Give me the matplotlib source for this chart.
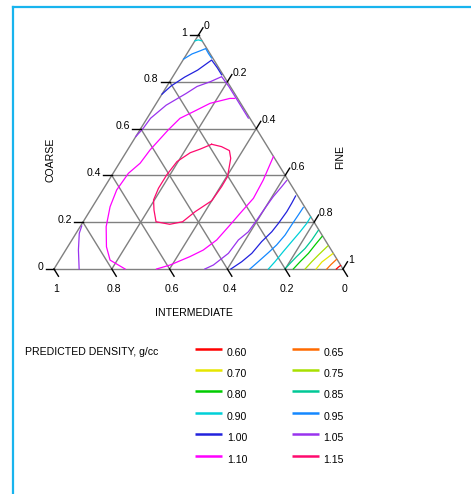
import matplotlib
matplotlib.use('Agg')
import matplotlib.pyplot as plt
from matplotlib.lines import Line2D

plt.rcParams['font.family'] = ['Liberation Sans', 'DejaVu Sans']

# density levels (g/cc) and their line colours
levels = [0.60, 0.65, 0.70, 0.75, 0.80, 0.85, 0.90, 0.95, 1.00, 1.05, 1.10, 1.15]
level_colors = ['#ff0000', '#ff6a00', '#e6e600', '#a8e000', '#00cc00', '#00c896',
                '#00d0d8', '#1488ff', '#2222dd', '#9933ee', '#ff00ff', '#ff0a6e']

# traced isolines, points are (coarse, fine); intermediate = 1 - coarse - fine
c060 = [(0.0, 0.977), (0.008, 0.980), (0.015, 0.984)]
c065 = [(0.0, 0.944), (0.019, 0.949), (0.041, 0.957)]
c070 = [(0.0, 0.907), (0.030, 0.912), (0.066, 0.932)]
c075 = [(0.0, 0.869), (0.030, 0.876), (0.060, 0.885), (0.098, 0.898)]
c080 = [(0.0, 0.828), (0.031, 0.836), (0.067, 0.847), (0.103, 0.852), (0.139, 0.858)]
c085 = [(0.0, 0.799), (0.024, 0.805), (0.053, 0.813), (0.088, 0.825), (0.124, 0.830),
        (0.165, 0.832)]
c090 = [(0.0, 0.742), (0.031, 0.749), (0.074, 0.756), (0.117, 0.764), (0.159, 0.772),
        (0.195, 0.777), (0.222, 0.777)]
c090_apex = [(0.975, 0.0), (0.979, 0.010), (0.975, 0.024)]
c095 = [(0.0, 0.678), (0.031, 0.691), (0.070, 0.707), (0.103, 0.719), (0.145, 0.727),
        (0.188, 0.728), (0.231, 0.730), (0.263, 0.731)]
c095_top = [(0.897, 0.0), (0.919, 0.018), (0.932, 0.039), (0.942, 0.054), (0.920, 0.075),
            (0.902, 0.094)]
c100 = [(0.0, 0.612), (0.031, 0.634), (0.067, 0.651), (0.117, 0.660), (0.159, 0.674),
        (0.195, 0.679), (0.245, 0.683), (0.281, 0.682), (0.312, 0.680)]
c100_top = [(0.747, 0.0), (0.782, 0.014), (0.820, 0.042), (0.850, 0.072), (0.893, 0.099),
            (0.860, 0.135), (0.830, 0.165)]
c105 = [(0.0, 0.522), (0.017, 0.543), (0.067, 0.570), (0.124, 0.576), (0.159, 0.593),
        (0.209, 0.597), (0.259, 0.600), (0.309, 0.604), (0.352, 0.612), (0.378, 0.616)]
c105_top = [(0.566, 0.0), (0.600, 0.008), (0.644, 0.012), (0.700, 0.038), (0.750, 0.082),
            (0.780, 0.105), (0.800, 0.140), (0.822, 0.169), (0.780, 0.215), (0.720, 0.275),
            (0.645, 0.350)]
c105_left = [(0.184, 0.004), (0.153, 0.011), (0.081, 0.044), (0.0, 0.087)]
c110_left = [(0.0, 0.246), (0.038, 0.175), (0.095, 0.134), (0.181, 0.090), (0.266, 0.061),
             (0.338, 0.048), (0.409, 0.053), (0.452, 0.072), (0.509, 0.078), (0.594, 0.098),
             (0.644, 0.114), (0.672, 0.146), (0.708, 0.186), (0.729, 0.244), (0.729, 0.261)]
c110_right = [(0.0, 0.355), (0.017, 0.393), (0.053, 0.444), (0.081, 0.476), (0.124, 0.501),
              (0.188, 0.515), (0.238, 0.525), (0.302, 0.539), (0.380, 0.534), (0.480, 0.519)]
c115 = [(0.533, 0.279), (0.523, 0.318), (0.506, 0.354), (0.473, 0.375), (0.437, 0.388),
        (0.395, 0.403), (0.352, 0.404), (0.292, 0.400), (0.245, 0.366), (0.202, 0.344),
        (0.191, 0.305), (0.202, 0.252), (0.252, 0.220), (0.295, 0.197), (0.345, 0.189),
        (0.402, 0.189), (0.459, 0.196), (0.497, 0.223), (0.512, 0.249), (0.533, 0.279)]

isolines = [(0.60, c060), (0.65, c065), (0.70, c070), (0.75, c075), (0.80, c080),
            (0.85, c085), (0.90, c090), (0.90, c090_apex), (0.95, c095), (0.95, c095_top),
            (1.00, c100), (1.00, c100_top), (1.05, c105), (1.05, c105_top),
            (1.05, c105_left), (1.10, c110_left), (1.10, c110_right), (1.15, c115)]

tick_vals = [0, 0.2, 0.4, 0.6, 0.8, 1]

# triangle placement in figure pixels
X0, Y0, W, H = 54.0, 269.0, 289.0, 234.0
TICK = 8.5
GRID = '#808080'
FS = 7.6


def to_xy(coarse, fine):
    return X0 + W * (fine + coarse / 2.0), Y0 - H * coarse


fig = plt.figure(figsize=(4.71, 4.94), dpi=100)
ax = fig.add_axes([0, 0, 1, 1])
ax.set_xlim(0, 471)
ax.set_ylim(494, 0)
ax.axis('off')

# frame lines
fig.add_artist(Line2D([12.5 / 471, 1], [1 - 7.5 / 494, 1 - 7.5 / 494], color='#18b4ee', lw=1.6))
fig.add_artist(Line2D([12.5 / 471, 12.5 / 471], [1 - 7.5 / 494, 0], color='#18b4ee', lw=1.6))

# grid and outline
for v in tick_vals:
    # constant coarse
    xa, ya = to_xy(v, 0)
    xb, yb = to_xy(v, 1 - v)
    ax.plot([xa, xb], [ya, yb], color=GRID, lw=1.0, zorder=1)
    # constant fine
    xa, ya = to_xy(0, v)
    xb, yb = to_xy(1 - v, v)
    ax.plot([xa, xb], [ya, yb], color=GRID, lw=1.0, zorder=1)
    # constant intermediate
    xa, ya = to_xy(0, 1 - v)
    xb, yb = to_xy(1 - v, 0)
    ax.plot([xa, xb], [ya, yb], color=GRID, lw=1.0, zorder=1)

# ticks and labels
dx, dy = 0.525 * TICK, 0.851 * TICK
for v in tick_vals:
    lab = f'{v:g}'
    # coarse, left side
    x, y = to_xy(v, 0)
    ax.plot([x - TICK, x], [y, y], color='black', lw=1.0, zorder=3)
    ax.text(x - TICK - 2.5, y + 0.5, lab, ha='right', va='baseline', fontsize=FS)
    # fine, right side
    x, y = to_xy(1 - v, v)
    ax.plot([x, x + dx], [y, y - dy], color='black', lw=1.0, zorder=3)
    ax.text(x + dx + 0.5, y - dy + 1.5, lab, ha='left', va='baseline', fontsize=FS)
    # intermediate, bottom
    x, y = to_xy(0, 1 - v)
    ax.plot([x, x + dx], [y, y + dy], color='black', lw=1.0, zorder=3)
    ax.text(x + 2.0, y + 19.5, lab, ha='center', va='center', fontsize=FS)

ax.text(50, 160, 'COARSE', rotation=90, ha='center', va='center', fontsize=FS)
ax.text(340, 157, 'FINE', rotation=90, ha='center', va='center', fontsize=FS)
ax.text(194, 312.5, 'INTERMEDIATE', ha='center', va='center', fontsize=FS)

# isolines
color_of = dict(zip(levels, level_colors))
for lev, pts in isolines:
    xs, ys = zip(*[to_xy(c, f) for c, f in pts])
    ax.plot(xs, ys, color=color_of[lev], lw=0.9, zorder=2, solid_joinstyle='round')

# legend
ax.text(25, 352, 'PREDICTED DENSITY, g/cc', ha='left', va='center', fontsize=FS)
for k, (lev, col) in enumerate(zip(levels, level_colors)):
    row, colno = divmod(k, 2)
    lx = 195 + colno * 96.5
    ly = 348.5 + row * 21.4
    ax.plot([lx, lx + 27], [ly, ly], color=col, lw=1.8, solid_capstyle='butt')
    ax.text(lx + 32, ly + 4, f'{lev:.2f}', ha='left', va='center', fontsize=FS)

fig.savefig('out.png', dpi=100)
